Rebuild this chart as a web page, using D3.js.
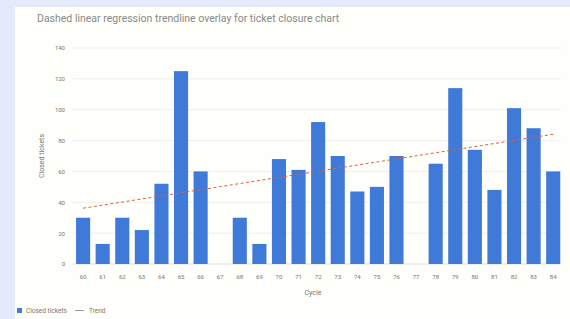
<!DOCTYPE html>
<html>
<head>
<meta charset="utf-8">
<script src="https://cdn.jsdelivr.net/npm/d3@7"></script>
<style>
  html, body { margin: 0; padding: 0; background: #e4e9fb; }
  svg { display: block; }
  text { font-family: "Roboto", "Noto Sans", sans-serif; }
</style>
</head>
<body>
<svg id="chart" width="570" height="319"></svg>
<script>
const titleText = "Dashed linear regression trendline overlay for ticket closure chart";
const cycles = ["60","61","62","63","64","65","66","67","68","69","70","71","72","73","74","75","76","77","78","79","80","81","82","83","84"];
const closedTickets = [30,13,30,22,52,125,60,null,30,13,68,61,92,70,47,50,70,null,65,114,74,48,101,88,60];
const yTicks = [0,20,40,60,80,100,120,140];
const seriesNames = ["Closed tickets", "Trend"];

const svg = d3.select("#chart");
svg.append("rect").attr("x", 15).attr("y", 7).attr("width", 555).attr("height", 312).attr("fill", "#fefefb");

svg.append("text").attr("x", 37).attr("y", 22).attr("font-size", 10.5).attr("fill", "#8a8a8a").text(titleText);

const x = d3.scaleBand().domain(cycles).range([73.3, 563]).paddingInner(0.28).paddingOuter(0.14);
const y = d3.scaleLinear().domain([0, 140]).range([264, 48]);

// gridlines
svg.append("g").selectAll("line").data(yTicks).join("line")
  .attr("x1", 73).attr("x2", 561)
  .attr("y1", d => y(d)).attr("y2", d => y(d))
  .attr("stroke", d => d === 0 ? "#dcdcdc" : "#eeeeee").attr("stroke-width", 1);

// y axis
const yAxis = svg.append("g").attr("transform", "translate(73,0)")
  .call(d3.axisLeft(y).tickValues(yTicks).tickSize(0).tickPadding(8));
yAxis.select(".domain").remove();
yAxis.selectAll("text").attr("font-size", 6).attr("fill", "#777");

// x axis
const xAxis = svg.append("g").attr("transform", "translate(0,264)")
  .call(d3.axisBottom(x).tickSize(0).tickPadding(11));
xAxis.select(".domain").remove();
xAxis.selectAll("text").attr("font-size", 6).attr("fill", "#777");

// axis titles
svg.append("text").attr("transform", "translate(44,156) rotate(-90)").attr("text-anchor", "middle")
  .attr("font-size", 7).attr("fill", "#777").text("Closed tickets");
svg.append("text").attr("x", 313).attr("y", 295).attr("text-anchor", "middle")
  .attr("font-size", 7).attr("fill", "#777").text("Cycle");

// bars
const barData = cycles.map((c, i) => ({c, v: closedTickets[i]})).filter(d => d.v != null);
svg.append("g").selectAll("rect").data(barData).join("rect")
  .attr("x", d => x(d.c)).attr("width", x.bandwidth())
  .attr("y", d => y(d.v)).attr("height", d => y(0) - y(d.v))
  .attr("fill", "#3f7ad8");

// linear regression trend from data
const pts = closedTickets.map((v, i) => [i, v]).filter(p => p[1] != null);
const mx = d3.mean(pts, p => p[0]), my = d3.mean(pts, p => p[1]);
const slope = d3.sum(pts, p => (p[0]-mx)*(p[1]-my)) / d3.sum(pts, p => (p[0]-mx)**2);
const intercept = my - slope*mx;
const trend = cycles.map((c, i) => ({c, v: intercept + slope*i}));
const line = d3.line().x(d => x(d.c) + x.bandwidth()/2).y(d => y(d.v));
svg.append("path").datum(trend).attr("d", line).attr("fill", "none")
  .attr("stroke", "#e35d3a").attr("stroke-width", 1).attr("stroke-dasharray", "3,2.5");

// legend
const lg = svg.append("g");
lg.append("rect").attr("x", 17).attr("y", 308).attr("width", 5).attr("height", 5).attr("fill", "#3f7ad8");
lg.append("text").attr("x", 26).attr("y", 313).attr("font-size", 6.5).attr("fill", "#777").text(seriesNames[0]);
lg.append("line").attr("x1", 75).attr("x2", 84).attr("y1", 310.5).attr("y2", 310.5).attr("stroke", "#999").attr("stroke-width", 1);
lg.append("text").attr("x", 89).attr("y", 313).attr("font-size", 6.5).attr("fill", "#777").text(seriesNames[1]);
</script>
</body>
</html>
